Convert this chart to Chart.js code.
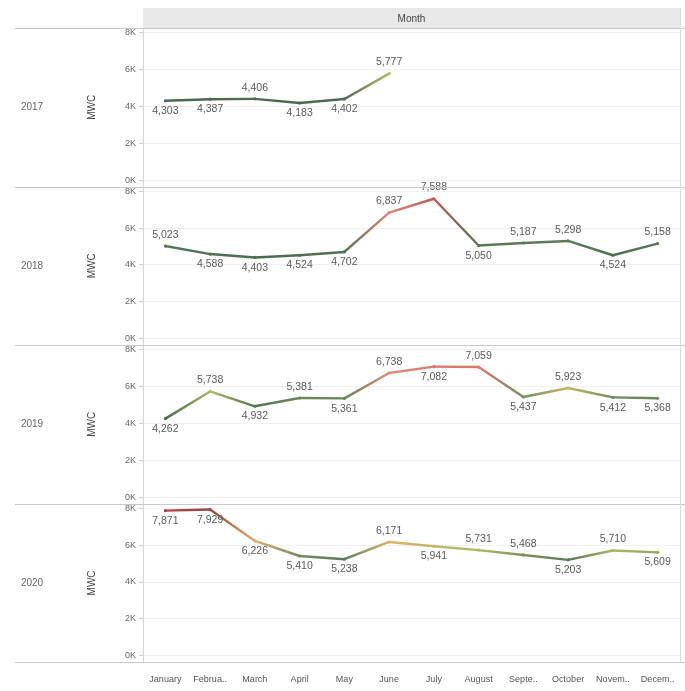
<!DOCTYPE html>
<html>
<head>
<meta charset="utf-8">
<script src="https://cdn.jsdelivr.net/npm/chart.js@4"></script>
<style>
  html, body { margin: 0; padding: 0; background: #fff; }
  #wrap { width: 685px; height: 691px; }
</style>
</head>
<body>
<div id="wrap"><canvas id="c" width="685" height="691"></canvas></div>
<script>
// Monthly energy per year (MWC)
const months = ['January','February','March','April','May','June','July','August','September','October','November','December'];
const monthTicks = ['January','Februa..','March','April','May','June','July','August','Septe..','October','Novem..','Decem..'];
const years = ['2017', '2018', '2019', '2020'];
const yTicks = [0, 2000, 4000, 6000, 8000];

const mwc2017 = [4303, 4387, 4406, 4183, 4402, 5777, null, null, null, null, null, null];
const mwc2018 = [5023, 4588, 4403, 4524, 4702, 6837, 7588, 5050, 5187, 5298, 4524, 5158];
const mwc2019 = [4262, 5738, 4932, 5381, 5361, 6738, 7082, 7059, 5437, 5923, 5412, 5368];
const mwc2020 = [7871, 7929, 6226, 5410, 5238, 6171, 5941, 5731, 5468, 5203, 5710, 5609];

const rows = [mwc2017, mwc2018, mwc2019, mwc2020];

// label placement per row: 'a' above the point, 'b' below
const labelSides = [
  ['b','b','a','b','b','a'],
  ['a','b','b','b','b','a','a','b','a','a','b','a'],
  ['b','a','b','a','b','a','b','a','b','a','b','b'],
  ['b','b','b','b','b','a','b','a','a','b','a','b']
];

// diverging colour ramp: low = grey-green, mid = yellow, high = red
const ramp = [
  [4200, [72, 104, 78]],
  [5300, [92, 124, 88]],
  [5750, [178, 186, 100]],
  [6200, [222, 178, 108]],
  [6800, [226, 136, 118]],
  [7400, [210, 100, 100]],
  [7950, [158, 66, 60]]
];
function colorFor(v) {
  if (v <= ramp[0][0]) return 'rgb(' + ramp[0][1].join(',') + ')';
  for (let i = 1; i < ramp.length; i++) {
    if (v <= ramp[i][0]) {
      const t = (v - ramp[i-1][0]) / (ramp[i][0] - ramp[i-1][0]);
      const a = ramp[i-1][1], b = ramp[i][1];
      return 'rgb(' + a.map((c, k) => Math.round(c + (b[k] - c) * t)).join(',') + ')';
    }
  }
  return 'rgb(' + ramp[ramp.length-1][1].join(',') + ')';
}

const canvas = document.getElementById('c');
const ctx2d = canvas.getContext('2d');
const FONT = "'Liberation Sans Narrow', 'Liberation Sans', Arial, sans-serif";

const datasets = rows.map((vals, r) => ({
  label: years[r],
  data: vals,
  yAxisID: 'y' + r,
  borderWidth: 2.4,
  pointRadius: 1.6,
  pointBackgroundColor: ctx => colorFor(vals[ctx.dataIndex] || 0),
  pointBorderWidth: 0,
  tension: 0,
  spanGaps: false,
  segment: {
    borderColor: ctx => {
      const v0 = vals[ctx.p0DataIndex], v1 = vals[ctx.p1DataIndex];
      const g = ctx2d.createLinearGradient(ctx.p0.x, ctx.p0.y, ctx.p1.x, ctx.p1.y);
      g.addColorStop(0, colorFor(v0));
      g.addColorStop(1, colorFor(v1));
      return g;
    }
  }
}));

// stacked row axes; the stack is laid out from the last-declared axis downwards,
// so they are declared bottom row first
const yScales = {};
for (let r = years.length - 1; r >= 0; r--) {
  yScales['y' + r] = {
    type: 'linear',
    position: 'left',
    stack: 'rows',
    stackWeight: 1,
    min: -350,
    max: 8250,
    afterBuildTicks: s => { s.ticks = yTicks.map(v => ({ value: v })); },
    afterFit: s => { s.width = 65; },
    grid: { color: '#f0f0f0', tickColor: '#cfcfcf', tickLength: 4, drawOnChartArea: true },
    border: { color: '#d6d6d6' },
    ticks: {
      font: { family: FONT, size: 9 },
      color: '#666',
      padding: 3,
      callback: v => (v / 1000) + 'K'
    }
  };
}

const panelDecor = {
  id: 'panelDecor',
  beforeDraw(c) {
    const ctx = c.ctx, a = c.chartArea;
    ctx.save();
    // column header band
    ctx.fillStyle = '#e9e9e9';
    ctx.fillRect(a.left, 8, a.right - a.left, a.top - 8);
    ctx.fillStyle = '#444';
    ctx.font = '10px ' + FONT;
    ctx.textAlign = 'center';
    ctx.textBaseline = 'middle';
    ctx.fillText('Month', (a.left + a.right) / 2, (a.top + 8) / 2 + 1);
    ctx.restore();
  },
  afterDraw(c) {
    const ctx = c.ctx, a = c.chartArea;
    ctx.save();
    ctx.strokeStyle = '#c9c9c9';
    ctx.lineWidth = 1;
    years.forEach((yr, r) => {
      const s = c.scales['y' + r];
      [s.top, s.bottom].forEach(yy => {
        ctx.beginPath();
        ctx.moveTo(15, Math.round(yy) + 0.5);
        ctx.lineTo(685, Math.round(yy) + 0.5);
        ctx.stroke();
      });
      const mid = (s.top + s.bottom) / 2;
      ctx.fillStyle = '#666';
      ctx.font = '10px ' + FONT;
      ctx.textAlign = 'center';
      ctx.textBaseline = 'middle';
      ctx.fillText(yr, 32, mid);
      ctx.save();
      ctx.translate(92, mid);
      ctx.rotate(-Math.PI / 2);
      ctx.fillStyle = '#444';
      ctx.font = '10px ' + FONT;
      ctx.fillText('MWC', 0, 0);
      ctx.restore();
    });
    // right border
    ctx.strokeStyle = '#dcdcdc';
    ctx.beginPath();
    ctx.moveTo(Math.round(a.right) + 0.5, 8);
    ctx.lineTo(Math.round(a.right) + 0.5, a.bottom);
    ctx.stroke();
    ctx.restore();
  },
  afterDatasetsDraw(c) {
    const ctx = c.ctx;
    ctx.save();
    ctx.font = '10.5px ' + FONT;
    ctx.fillStyle = '#5a5a5a';
    ctx.textAlign = 'center';
    rows.forEach((vals, r) => {
      const meta = c.getDatasetMeta(r);
      meta.data.forEach((pt, i) => {
        const v = vals[i];
        if (v == null) return;
        const above = labelSides[r][i] === 'a';
        ctx.textBaseline = above ? 'bottom' : 'top';
        ctx.fillText(v.toLocaleString('en-US'), pt.x, pt.y + (above ? -6 : 5));
      });
    });
    ctx.restore();
  }
};

new Chart(canvas, {
  type: 'line',
  data: { labels: monthTicks, datasets },
  options: {
    responsive: false,
    animation: false,
    devicePixelRatio: 1,
    layout: { padding: { top: 28, left: 78, right: 5, bottom: 2 } },
    plugins: { legend: { display: false }, tooltip: { enabled: false } },
    scales: Object.assign({
      x: {
        type: 'category',
        offset: true,
        grid: { display: false },
        border: { color: '#c9c9c9' },
        ticks: { font: { family: FONT, size: 9 }, color: '#555', maxRotation: 0, autoSkip: false, padding: 4 }
      }
    }, yScales)
  },
  plugins: [panelDecor]
});
</script>
</body>
</html>
